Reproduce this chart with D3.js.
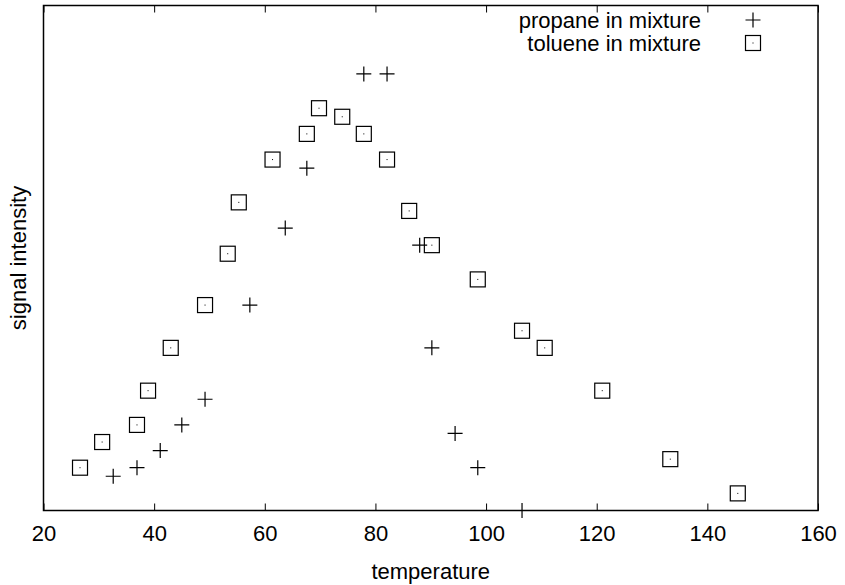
<!DOCTYPE html>
<html>
<head>
<meta charset="utf-8">
<script src="https://cdn.jsdelivr.net/npm/d3@7"></script>
<style>
  body { margin: 0; background: #fff; }
  svg text { font-family: "Liberation Sans", Arial, sans-serif; fill: #000; }
</style>
</head>
<body>
<div id="chart"></div>
<script>
// temperatures and signal readings
const propaneTemp = [32.6, 36.9, 41.1, 45.0, 49.2, 57.3, 63.7, 67.6, 77.9, 82.1, 88.0, 90.2, 94.4, 98.5, 106.5];
const propaneSignal = [4, 5, 7, 10, 13, 24, 33, 40, 51, 51, 31, 19, 9, 5, 0];
const tolueneTemp = [26.6, 30.6, 36.9, 38.9, 43.0, 49.2, 53.3, 55.3, 61.4, 67.6, 69.8, 74.0, 77.9, 82.1, 86.1, 90.2, 98.5, 106.5, 110.6, 121.0, 133.3, 145.5];
const tolueneSignal = [5, 8, 10, 14, 19, 24, 30, 36, 41, 44, 47, 46, 44, 41, 35, 31, 27, 21, 19, 14, 6, 2];
const xTicks = [20, 40, 60, 80, 100, 120, 140, 160];
const seriesNames = ["propane in mixture", "toluene in mixture"];

const width = 845, height = 585;
const margin = {top: 5.5, right: 27, bottom: 74.5, left: 43.5};
const fontSize = '22px';

let svg = d3.select('#chart').append('svg')
  .attr('width', width)
  .attr('height', height);

let x = d3.scaleLinear().domain([20, 160]).range([margin.left, width - margin.right]);
let y = d3.scaleLinear().domain([0, 59]).range([height - margin.bottom, margin.top]);

let propane = propaneTemp.map((t, i) => ({t: t, s: propaneSignal[i]}));
let toluene = tolueneTemp.map((t, i) => ({t: t, s: tolueneSignal[i]}));

// bottom axis with inward ticks
let xAxis = svg.append('g')
  .attr('transform', 'translate(0,' + y(0) + ')')
  .call(d3.axisBottom(x).tickValues(xTicks).tickSize(-7).tickPadding(15));
xAxis.select('.domain').remove();
xAxis.selectAll('line').attr('stroke', '#000');
xAxis.selectAll('text').style('font-size', fontSize);

// mirrored ticks on top
let xTop = svg.append('g')
  .attr('transform', 'translate(0,' + margin.top + ')')
  .call(d3.axisTop(x).tickValues(xTicks).tickSize(-7).tickFormat(''));
xTop.select('.domain').remove();
xTop.selectAll('line').attr('stroke', '#000');

// frame
svg.append('rect')
  .attr('x', x(20)).attr('y', y(59))
  .attr('width', x(160) - x(20)).attr('height', y(0) - y(59))
  .attr('fill', 'none').attr('stroke', '#000').attr('stroke-width', 1.5);

// axis titles
svg.append('text')
  .attr('x', (x(20) + x(160)) / 2).attr('y', 579)
  .attr('text-anchor', 'middle').style('font-size', fontSize)
  .text('temperature');
svg.append('text')
  .attr('transform', 'translate(26,' + (y(0) + y(59)) / 2 + ') rotate(-90)')
  .attr('text-anchor', 'middle').style('font-size', fontSize)
  .text('signal intensity');

const half = 7.5;
function drawPlus(g, cx, cy) {
  g.append('path')
    .attr('d', 'M' + (cx - half) + ',' + cy + 'H' + (cx + half) + 'M' + cx + ',' + (cy - half) + 'V' + (cy + half))
    .attr('stroke', '#000').attr('stroke-width', 1.2).attr('fill', 'none');
}
function drawBox(g, cx, cy) {
  g.append('rect')
    .attr('x', cx - half).attr('y', cy - half)
    .attr('width', half * 2).attr('height', half * 2)
    .attr('stroke', '#000').attr('stroke-width', 1.2).attr('fill', 'none');
  g.append('rect')
    .attr('x', cx - 0.5).attr('y', cy - 0.5).attr('width', 1).attr('height', 1)
    .attr('fill', '#000');
}

let pts = svg.append('g');
propane.forEach(d => drawPlus(pts, x(d.t), y(d.s)));
toluene.forEach(d => drawBox(pts, x(d.t), y(d.s)));

// legend
let legend = svg.append('g');
seriesNames.forEach((name, i) => {
  let ly = 20 + i * 23;
  legend.append('text')
    .attr('x', 701).attr('y', ly).attr('dy', '0.35em')
    .attr('text-anchor', 'end').style('font-size', fontSize)
    .text(name);
  if (i === 0) drawPlus(legend, 753, ly);
  else drawBox(legend, 753, ly);
});
</script>
</body>
</html>
